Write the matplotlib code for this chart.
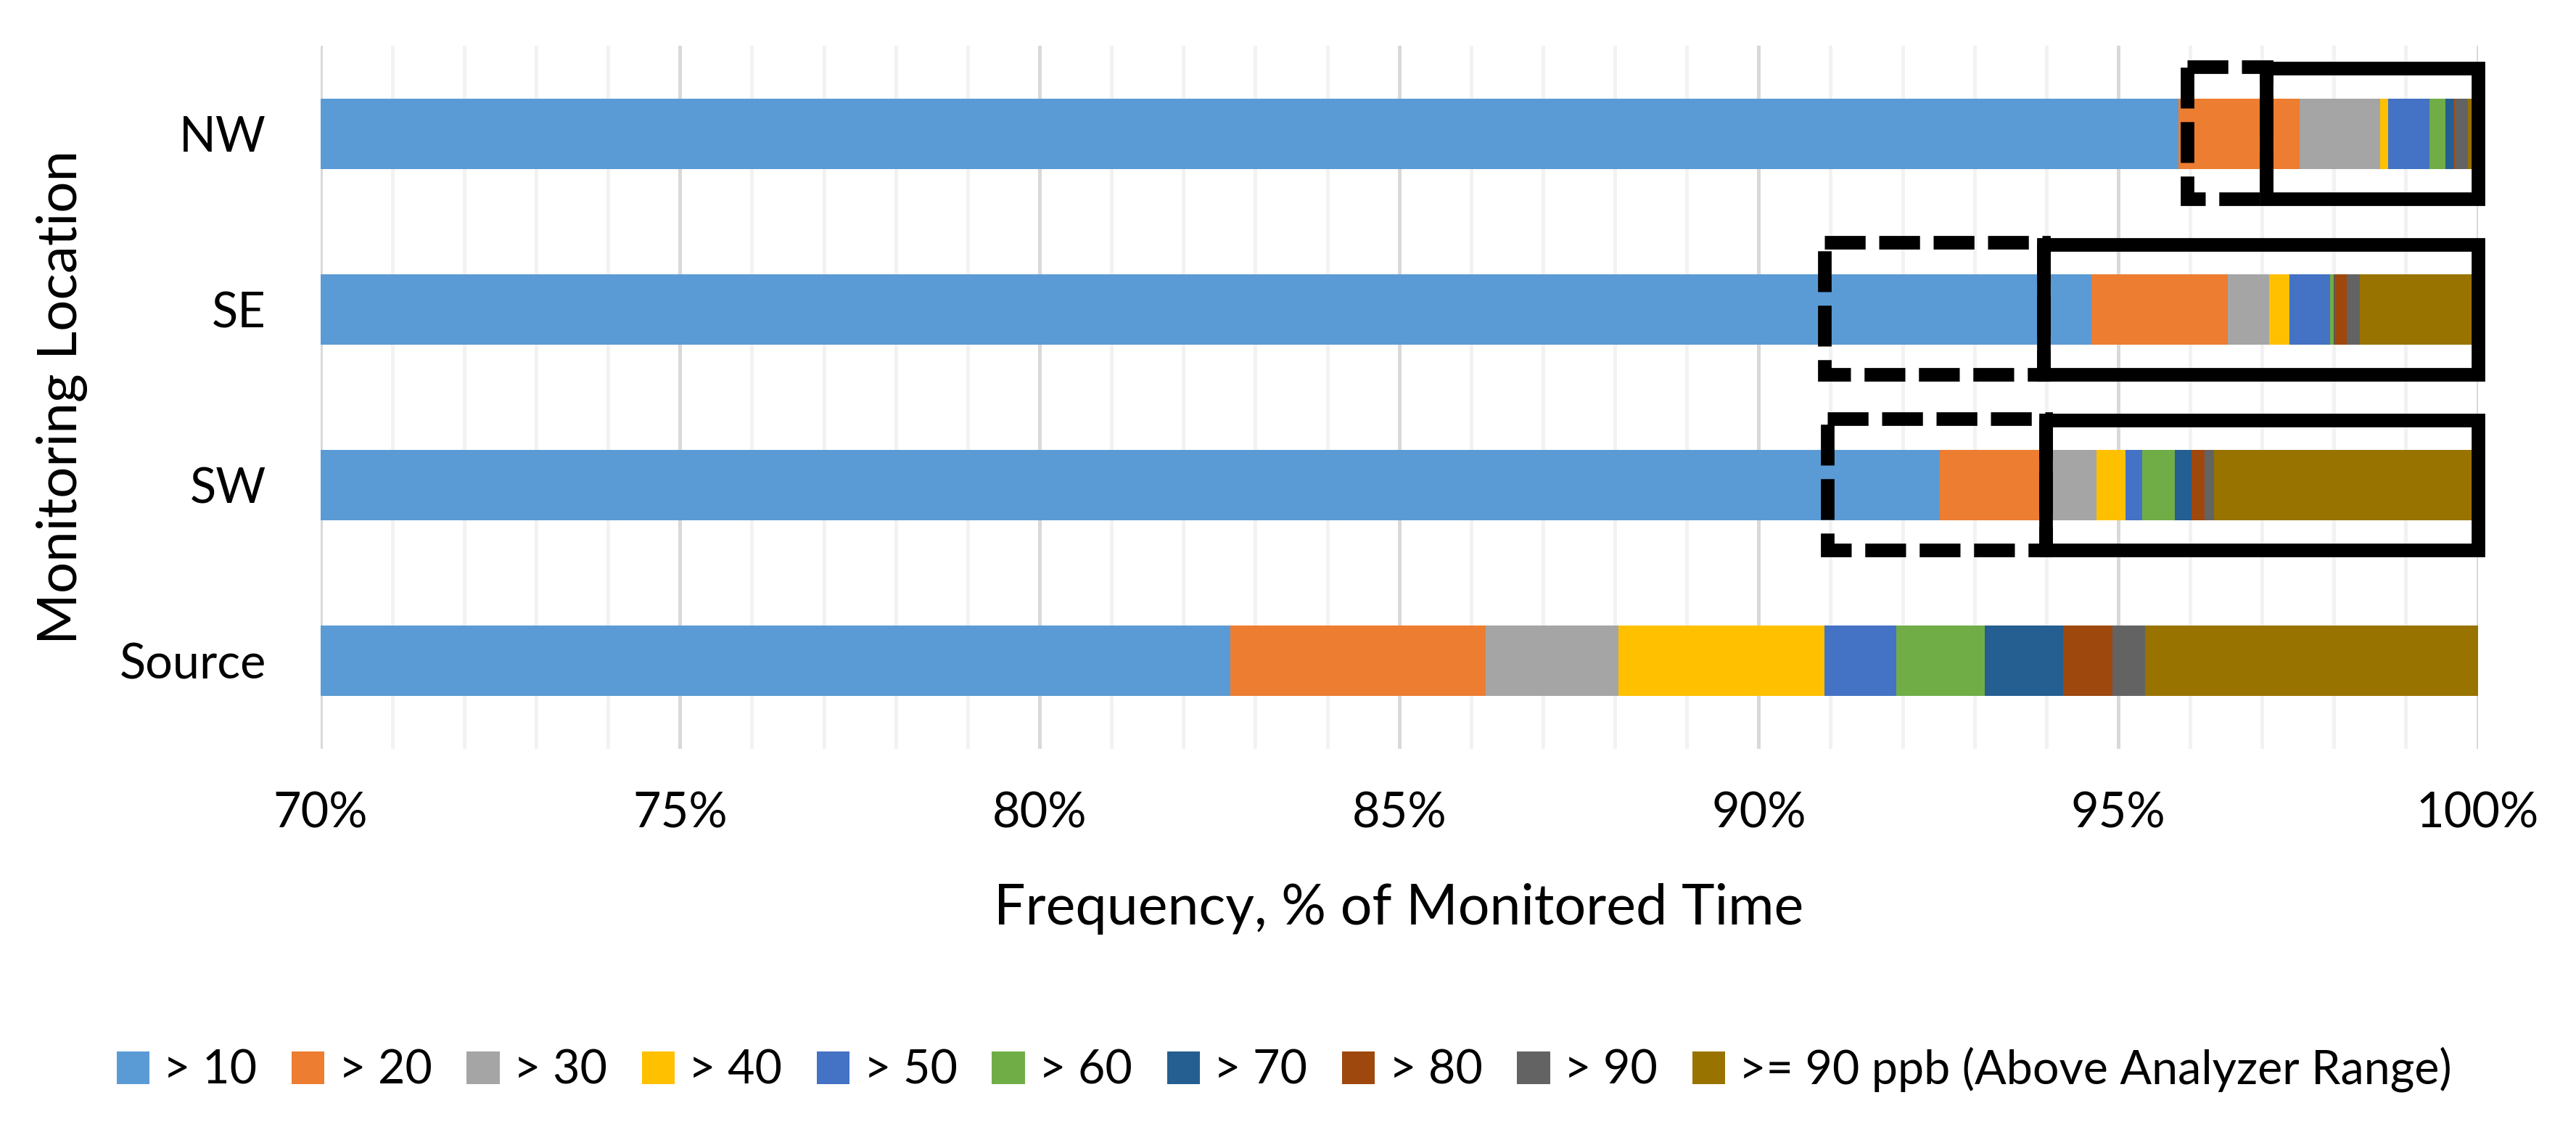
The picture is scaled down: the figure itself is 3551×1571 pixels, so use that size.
import matplotlib
matplotlib.use('Agg')
import matplotlib.pyplot as plt
from matplotlib.patches import Rectangle
from matplotlib.ticker import MultipleLocator, FixedLocator

plt.rcParams['font.family'] = ['Lato', 'DejaVu Sans']

# categories, top to bottom
locations = ['NW', 'SE', 'SW', 'Source']

# concentration bins
bins = ['> 10', '> 20', '> 30', '> 40', '> 50', '> 60', '> 70', '> 80', '> 90',
        '>= 90 ppb (Above Analyzer Range)']
colors = ['#5B9BD5', '#ED7D31', '#A5A5A5', '#FFC000', '#4472C4', '#70AD47',
          '#255E91', '#9E480E', '#636363', '#997300']

# frequency (% of monitored time) of each bin, per location (NW, SE, SW, Source)
gt10 = [95.84, 94.63, 92.52, 82.65]
gt20 = [1.68, 1.89, 1.48, 3.55]
gt30 = [1.12, 0.58, 0.70, 1.85]
gt40 = [0.11, 0.28, 0.40, 2.86]
gt50 = [0.58, 0.57, 0.23, 1.00]
gt60 = [0.22, 0.05, 0.46, 1.23]
gt70 = [0.11, 0.01, 0.23, 1.09]
gt80 = [0.02, 0.17, 0.18, 0.69]
gt90 = [0.18, 0.18, 0.13, 0.45]
above = [0.14, 1.64, 3.67, 4.63]
series = [gt10, gt20, gt30, gt40, gt50, gt60, gt70, gt80, gt90, above]

# highlight boxes: (location index, x start, x end)
dashed_boxes = [(0, 95.96, 97.06), (1, 90.91, 93.96), (2, 90.96, 93.99)]
solid_boxes = [(0, 97.06, 100.0), (1, 93.96, 100.0), (2, 93.99, 100.0)]

W, H, DPI = 3551, 1571, 300
fig = plt.figure(figsize=(W / DPI, H / DPI), dpi=DPI)
ax = fig.add_axes([441.7 / W, 1 - 1032 / H, (3415.6 - 441.7) / W, (1032 - 63) / H])

ypos = list(range(len(locations)))
left = [0.0] * len(locations)
for vals, lab, col in zip(series, bins, colors):
    ax.barh(ypos, vals, left=left, height=0.40, color=col, label=lab, zorder=2)
    left = [a + b for a, b in zip(left, vals)]

half = 0.37
lw = 4.5
for i, x0, x1 in dashed_boxes:
    ax.add_patch(Rectangle((x0, i - half - 0.01), x1 - x0, 2 * half + 0.01, fill=False,
                           ec='black', lw=lw, linestyle=(0, (3, 1)),
                           joinstyle='miter', capstyle='butt', zorder=4, clip_on=False))
for i, x0, x1 in solid_boxes:
    ax.add_patch(Rectangle((x0, i - half), x1 - x0, 2 * half, fill=False,
                           ec='black', lw=lw, joinstyle='miter', zorder=5, clip_on=False))

ax.set_xlim(70, 100)
ax.set_ylim(len(locations) - 0.5, -0.5)
ax.xaxis.set_major_locator(FixedLocator([70, 75, 80, 85, 90, 95, 100]))
ax.xaxis.set_minor_locator(MultipleLocator(1))
ax.set_xticklabels(['{}%'.format(v) for v in [70, 75, 80, 85, 90, 95, 100]])
ax.set_yticks(ypos)
ax.set_yticklabels(locations)
ax.grid(which='minor', axis='x', color='#F2F2F2', lw=1.2, zorder=0)
ax.grid(which='major', axis='x', color='#D9D9D9', lw=1.2, zorder=0)
ax.set_axisbelow(True)
ax.tick_params(axis='both', which='both', length=0, labelsize=16)
ax.tick_params(axis='x', pad=14)
ax.tick_params(axis='y', pad=18)
for s in ax.spines.values():
    s.set_visible(False)

fig.text(1928 / W, 1 - 1252 / H, 'Frequency, % of Monitored Time',
         ha='center', va='center', fontsize=18.5)
fig.text(86 / W, 1 - 547 / H, 'Monitoring Location', rotation=90,
         ha='center', va='center', fontsize=18.3)

handles, labels = ax.get_legend_handles_labels()
fig.legend(handles, labels, ncol=10, loc='center', bbox_to_anchor=(0.4985, 1 - 1474 / H),
           frameon=False, fontsize=15.5, handlelength=0.7, handleheight=0.7,
           handletextpad=0.3, columnspacing=0.74, borderpad=0)

fig.savefig('out.png', dpi=DPI)
